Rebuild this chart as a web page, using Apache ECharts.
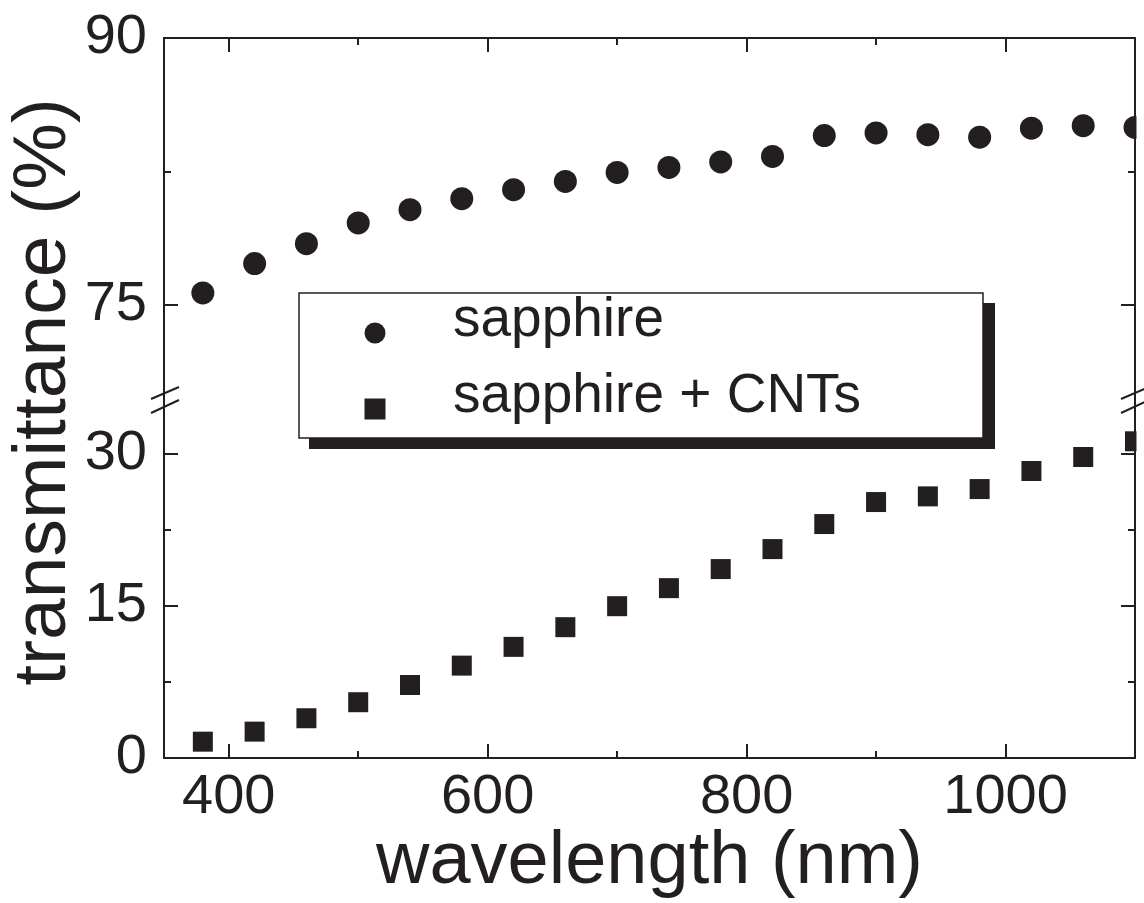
<!DOCTYPE html>
<html><head><meta charset="utf-8">
<script src="https://cdn.jsdelivr.net/npm/echarts@6/dist/echarts.min.js"></script>
<style>html,body{margin:0;padding:0;background:#fff}#c{width:1144px;height:903px}</style>
</head><body><div id="c"></div>
<script>
// ---- data ----
const wavelengths = [380, 420, 460, 500, 540, 580, 620, 660, 700, 740, 780, 820, 860, 900, 940, 980, 1020, 1060, 1100];
const sapphire = [75.66, 77.31, 78.43, 79.60, 80.34, 80.96, 81.47, 81.93, 82.44, 82.72, 83.03, 83.34, 84.51, 84.66, 84.56, 84.42, 84.93, 85.07, 84.97];
const sapphireCNT = [1.61, 2.60, 3.92, 5.5, 7.20, 9.11, 10.96, 12.90, 14.97, 16.75, 18.63, 20.60, 23.07, 25.24, 25.80, 26.52, 28.30, 29.68, 31.23];
const seriesNames = ['sapphire', 'sapphire + CNTs'];
const xMajorTicks = [400, 600, 800, 1000];
const xMinorTicks = [500, 700, 900];
const yTopMajorTicks = [75, 90];
const yTopMinorTicks = [82.5];
const yBottomMajorTicks = [0, 15, 30];
const yBottomMinorTicks = [7.5, 22.5];
const xTitle = 'wavelength (nm)';
const yTitle = 'transmittance (%)';

// ---- styling ----
const INK = '#231f20';
const FONT = 'Liberation Sans';
const X_MIN = 350, X_MAX = 1100;
const TOP_MIN = 69.75, TOP_MAX = 90;
const BOT_MIN = 0, BOT_MAX = 35.5;

function grid(top) {
  return {left: 164, top: top, width: 971, height: 360, show: false, containLabel: false, outerBoundsMode: 'none'};
}
function xAx(gridIndex, position, ticks, len, showLine, labels, extra) {
  return Object.assign({
    type: 'value', gridIndex, position, min: X_MIN, max: X_MAX,
    splitLine: {show: false},
    axisLine: {show: showLine, onZero: false, lineStyle: {color: INK, width: 2}},
    axisTick: {show: true, inside: true, length: len, customValues: ticks, lineStyle: {color: INK, width: 2}},
    axisLabel: labels ? {show: true, customValues: labels, formatter: v => String(v), fontSize: 56, fontFamily: FONT, color: INK, margin: 12} : {show: false}
  }, extra || {});
}
function yAx(gridIndex, position, min, max, ticks, len, showLine, labels) {
  return {
    type: 'value', gridIndex, position, min, max,
    splitLine: {show: false},
    axisLine: {show: showLine, onZero: false, lineStyle: {color: INK, width: 2}},
    axisTick: {show: true, inside: true, length: len, customValues: ticks, lineStyle: {color: INK, width: 2}},
    axisLabel: labels ? {show: true, customValues: labels, formatter: v => String(v), fontSize: 56, fontFamily: FONT, color: INK, margin: 17} : {show: false}
  };
}

const chart = echarts.init(document.getElementById('c'), null, {renderer: 'canvas'});
chart.setOption({
  animation: false,
  backgroundColor: '#fff',
  grid: [grid(38), grid(38), grid(398), grid(398)],
  xAxis: [
    xAx(0, 'top', xMajorTicks, 14, true, null),
    xAx(1, 'top', xMinorTicks, 7, false, null),
    xAx(2, 'bottom', xMajorTicks, 14, true, xMajorTicks, {
      name: xTitle, nameLocation: 'middle', nameGap: 68, nameMoveOverlap: false,
      nameTextStyle: {fontSize: 74, fontFamily: FONT, color: INK}
    }),
    xAx(3, 'bottom', xMinorTicks, 7, false, null)
  ],
  yAxis: [
    yAx(0, 'left', TOP_MIN, TOP_MAX, yTopMajorTicks, 14, true, yTopMajorTicks),
    yAx(0, 'right', TOP_MIN, TOP_MAX, yTopMajorTicks, 14, true, null),
    yAx(1, 'left', TOP_MIN, TOP_MAX, yTopMinorTicks, 7, false, null),
    yAx(1, 'right', TOP_MIN, TOP_MAX, yTopMinorTicks, 7, false, null),
    yAx(2, 'left', BOT_MIN, BOT_MAX, yBottomMajorTicks, 14, true, yBottomMajorTicks),
    yAx(2, 'right', BOT_MIN, BOT_MAX, yBottomMajorTicks, 14, true, null),
    yAx(3, 'left', BOT_MIN, BOT_MAX, yBottomMinorTicks, 7, false, null),
    yAx(3, 'right', BOT_MIN, BOT_MAX, yBottomMinorTicks, 7, false, null)
  ],
  legend: {
    data: [
      {name: seriesNames[0], icon: 'circle'},
      {name: seriesNames[1], icon: 'path://M0 0H10V10H0Z'}
    ],
    orient: 'vertical', left: 364.5, top: 293.5, padding: 0,
    itemWidth: 146, itemHeight: 21, itemGap: 21, symbolKeepAspect: true,
    selectedMode: false, z: 10,
    formatter: '{t|{name}}',
    textStyle: {fontSize: 55, fontFamily: FONT, color: INK,
      rich: {t: {fontSize: 55, fontFamily: FONT, color: INK, padding: [0, 0, 24, 0]}}}
  },
  graphic: [
    // legend frame with drop shadow
    {type: 'rect', z: 3, shape: {x: 309, y: 303, width: 686, height: 146}, style: {fill: INK}},
    {type: 'rect', z: 3, shape: {x: 299, y: 293, width: 684, height: 145}, style: {fill: '#fff', stroke: INK, lineWidth: 1.5}},
    // clip markers beyond the right frame
    {type: 'rect', z: 3, shape: {x: 1136.5, y: 0, width: 12, height: 903}, style: {fill: '#fff'}},
    // axis break marks
    {type: 'line', z: 6, shape: {x1: 151, y1: 399, x2: 179, y2: 387}, style: {stroke: INK, lineWidth: 2}},
    {type: 'line', z: 6, shape: {x1: 151, y1: 413, x2: 179, y2: 400}, style: {stroke: INK, lineWidth: 2}},
    {type: 'line', z: 6, shape: {x1: 1121, y1: 399, x2: 1149, y2: 387}, style: {stroke: INK, lineWidth: 2}},
    {type: 'line', z: 6, shape: {x1: 1121, y1: 413, x2: 1149, y2: 400}, style: {stroke: INK, lineWidth: 2}},
    // y-axis title
    {type: 'text', z: 6, x: 44, y: 392, rotation: Math.PI / 2,
     style: {text: yTitle, fontSize: 75, fontFamily: FONT, fill: INK, align: 'center', verticalAlign: 'middle'}}
  ],
  series: [
    {type: 'scatter', name: seriesNames[0], xAxisIndex: 0, yAxisIndex: 0, clip: false,
     symbol: 'circle', symbolSize: 23, itemStyle: {color: INK, opacity: 1}, emphasis: {disabled: true},
     data: wavelengths.map((w, i) => [w, sapphire[i]])},
    {type: 'scatter', name: seriesNames[1], xAxisIndex: 2, yAxisIndex: 4, clip: false,
     symbol: 'rect', symbolSize: 20, itemStyle: {color: INK, opacity: 1}, emphasis: {disabled: true},
     data: wavelengths.map((w, i) => [w, sapphireCNT[i]])}
  ]
});
</script></body></html>
